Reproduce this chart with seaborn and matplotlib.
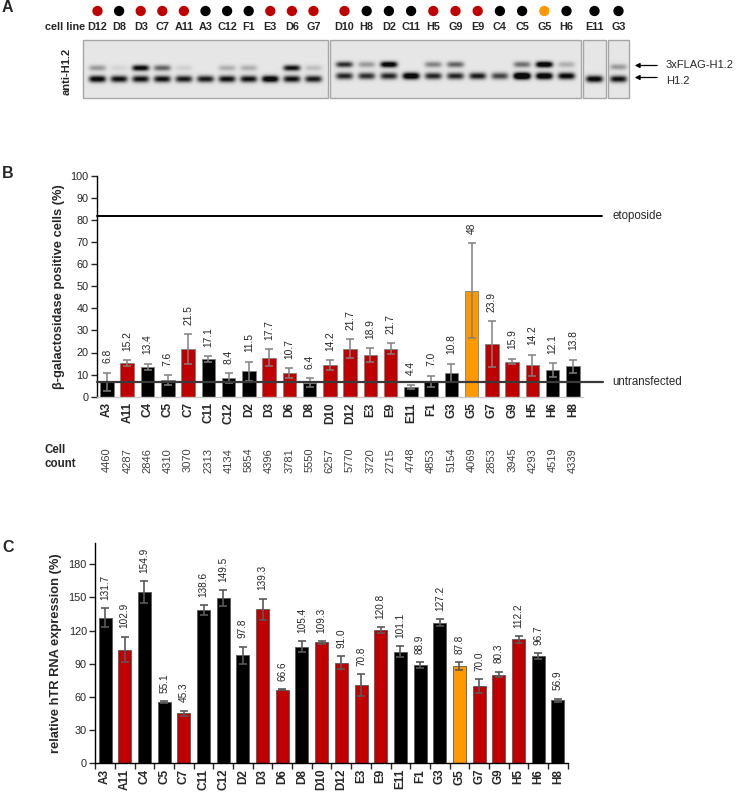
"""
Clonal H1.2 lines: blot, senescence and hTR expression panels.
"""

import numpy as np
import pandas as pd
import matplotlib
matplotlib.use('Agg')
import matplotlib.pyplot as plt
import seaborn as sns


sns.set_style('white')
plt.rcParams['font.family'] = ['Liberation Sans', 'DejaVu Sans']

W, H = 737, 796

# colour codes: k = no FLAG band, r = FLAG band, o = selected clone
palette_codes = {'k': '#000000', 'r': '#c00000', 'o': '#ff9900'}

# ---------------- panel A (western blot) ----------------
blot_lanes = ['D12', 'D8', 'D3', 'C7', 'A11', 'A3', 'C12', 'F1', 'E3', 'D6', 'G7',
              'D10', 'H8', 'D2', 'C11', 'H5', 'G9', 'E9', 'C4', 'C5', 'G5', 'H6',
              'E11', 'G3']
blot_codes = ['r', 'k', 'r', 'r', 'r', 'k', 'k', 'k', 'r', 'r', 'r',
              'r', 'k', 'k', 'k', 'r', 'r', 'r', 'k', 'k', 'o', 'k',
              'k', 'k']
lanes_per_membrane = [11, 11, 1, 1]
flag_band = [0.35, 0.08, 1.1, 0.6, 0.1, 0.0, 0.25, 0.25, 0.0, 1.0, 0.18,
             0.85, 0.35, 1.2, 0.0, 0.45, 0.6, 0.0, 0.0, 0.55, 1.3, 0.25,
             0.0, 0.35]
h12_band = [1.1, 1.0, 1.0, 1.0, 0.95, 0.95, 1.0, 1.0, 1.2, 1.0, 0.95,
            0.9, 0.85, 0.9, 1.3, 0.9, 0.9, 0.95, 0.75, 1.6, 1.3, 1.1,
            1.1, 1.0]

# ---------------- panels B and C ----------------
cells = ['A3', 'A11', 'C4', 'C5', 'C7', 'C11', 'C12', 'D2', 'D3', 'D6', 'D8', 'D10',
         'D12', 'E3', 'E9', 'E11', 'F1', 'G3', 'G5', 'G7', 'G9', 'H5', 'H6', 'H8']
cell_codes = ['k', 'r', 'k', 'k', 'r', 'k', 'k', 'k', 'r', 'r', 'k', 'r',
              'r', 'r', 'r', 'k', 'k', 'k', 'o', 'r', 'r', 'r', 'k', 'k']

sa_bgal = [6.8, 15.2, 13.4, 7.6, 21.5, 17.1, 8.4, 11.5, 17.7, 10.7, 6.4, 14.2,
           21.7, 18.9, 21.7, 4.4, 7.0, 10.8, 48, 23.9, 15.9, 14.2, 12.1, 13.8]
sa_bgal_err = [4.1, 1.4, 1.4, 2.2, 6.8, 1.2, 2.1, 4.4, 3.8, 2.1, 1.9, 2.3,
               4.3, 3.0, 2.4, 0.9, 2.5, 4.1, 21.5, 10.3, 1.2, 4.8, 3.0, 3.0]
cell_count = [4460, 4287, 2846, 4310, 3070, 2313, 4134, 5854, 4396, 3781, 5550, 6257,
              5770, 3720, 2715, 4748, 4853, 5154, 4069, 2853, 3945, 4293, 4519, 4339]
etoposide_level = 81.8
untransfected_level = 6.5

htr = [131.7, 102.9, 154.9, 55.1, 45.3, 138.6, 149.5, 97.8, 139.3, 66.6, 105.4, 109.3,
       91.0, 70.8, 120.8, 101.1, 88.9, 127.2, 87.8, 70.0, 80.3, 112.2, 96.7, 56.9]
htr_err = [8.5, 11.7, 10.0, 1.0, 2.4, 4.3, 7.3, 7.7, 9.6, 0.3, 4.9, 1.5,
           6.1, 9.7, 2.5, 4.7, 2.4, 3.0, 3.5, 6.0, 2.6, 3.0, 2.8, 1.6]


def px_rect(left, top, right, bottom):
    return [left / W, (H - bottom) / H, (right - left) / W, (bottom - top) / H]


def blot_image(width, height, lane_xs, upper_y, lower_y, flag, h12):
    yy, xx = np.mgrid[0:height, 0:width] + 0.5
    img = np.zeros((height, width))
    for x0, fu, fl in zip(lane_xs, flag, h12):
        gx = np.exp(-((xx - x0) / 8.5) ** 4)
        img += fu * gx * np.exp(-((yy - upper_y) / 3.0) ** 2)
        img += fl * gx * np.exp(-((yy - lower_y) / 3.4) ** 2)
    return np.clip(img, 0, 1)


fig = plt.figure(figsize=(W / 100, H / 100), dpi=100)

# overlay axes in pixel units for the blot and free text
axA = fig.add_axes([0, 0, 1, 1])
axA.set_xlim(0, W)
axA.set_ylim(H, 0)
axA.axis('off')
axA.patch.set_alpha(0)

membranes = [(83, 328, 68, 79), (330, 581, 64.5, 76), (583, 606, 67, 79), (608, 629, 67, 79)]
top, bottom = 40, 98
lane_x = []
start = 0
for (left, right, uy, ly), n in zip(membranes, lanes_per_membrane):
    if n > 1:
        xs = np.linspace(left + 14.5, right - 14.5, n)
    else:
        xs = np.array([(left + right) / 2])
    lane_x.extend(xs)
    w = int(round(right - left))
    h = bottom - top
    img = blot_image(w, h, xs - left, uy - top, ly - top,
                     flag_band[start:start + n], h12_band[start:start + n])
    axA.imshow(0.9 - 0.86 * img, cmap='gray', vmin=0, vmax=1, aspect='auto',
               extent=(left, right, bottom, top), interpolation='bilinear')
    axA.add_patch(plt.Rectangle((left, top), right - left, bottom - top,
                                fill=False, edgecolor='#a6a6a6', lw=1.0))
    start += n
axA.set_xlim(0, W)
axA.set_ylim(H, 0)

axA.scatter(lane_x, [11] * len(lane_x), s=55,
            c=[palette_codes[c] for c in blot_codes], linewidths=0)
for x, name in zip(lane_x, blot_lanes):
    axA.text(x, 27, name, ha='center', va='center', fontsize=7.8, fontweight='bold')
axA.text(45, 27, 'cell line', ha='left', va='center', fontsize=7.8, fontweight='bold')
axA.text(67, 71, 'anti-H1.2', ha='center', va='center', rotation=90,
         fontsize=8, fontweight='bold')
for y, label in [(65.5, '3xFLAG-H1.2'), (77.5, 'H1.2')]:
    axA.annotate('', xy=(632, y), xytext=(660, y),
                 arrowprops=dict(arrowstyle='-|>', color='black', lw=0.9,
                                 mutation_scale=7))
    axA.text(666, y + (0 if label != 'H1.2' else 3), label, ha='left', va='center',
             fontsize=8)

for letter, y in [('A', 7), ('B', 173), ('C', 548)]:
    axA.text(2, y, letter, ha='left', va='center', fontsize=11.5, fontweight='bold')

axA.text(45, 457, 'Cell\ncount', ha='left', va='center', fontsize=8.3,
         fontweight='bold', linespacing=1.2)

colors = dict(zip(cells, [palette_codes[c] for c in cell_codes]))
x = np.arange(len(cells))

# ---------------- panel B ----------------
dfB = pd.DataFrame({'cell': cells, 'value': sa_bgal, 'err': sa_bgal_err})
axB = fig.add_axes(px_rect(96.9, 175.7, 583, 396.7))
sns.barplot(data=dfB, x='cell', y='value', hue='cell', palette=colors, legend=False,
            saturation=1, width=0.67, edgecolor='#7f7f7f', linewidth=0.6,
            errorbar=None, ax=axB)
axB.errorbar(x, dfB['value'], yerr=dfB['err'], fmt='none', ecolor='#808080',
             elinewidth=1.1, capsize=2.9, capthick=1.1, zorder=4)
for i, (v, e) in enumerate(zip(sa_bgal, sa_bgal_err)):
    axB.text(i, v + e + 4.3, str(v), rotation=90, ha='center', va='bottom',
             fontsize=7.4, color='#262626')
for i, c in enumerate(cell_count):
    axB.text(i, -0.287, str(c), transform=axB.get_xaxis_transform(), rotation=90,
             ha='center', va='center', fontsize=8, color='#404040')

axB.plot([-0.5, 24.43], [etoposide_level] * 2, color='black', lw=1.4,
         clip_on=False, zorder=5)
axB.text(24.97, etoposide_level, 'etoposide', va='center', ha='left', fontsize=8.3)
axB.plot([-0.5, 24.48], [untransfected_level] * 2, color='#3a3a3a', lw=1.6,
         clip_on=False, zorder=5)
axB.text(24.92, untransfected_level, 'untransfected', va='center', ha='left', fontsize=8.3)

axB.set_xlim(-0.5, len(cells) - 0.5)
axB.set_ylim(0, 100)
axB.set_yticks(np.arange(0, 101, 10))
axB.set_xlabel('')
axB.set_ylabel('β-galactosidase positive cells (%)', fontsize=9.3, fontweight='bold',
               labelpad=4)
sns.despine(ax=axB)
axB.spines['left'].set_color('black')
axB.spines['left'].set_linewidth(1.0)
axB.spines['bottom'].set_color('#c8c8c8')
axB.spines['bottom'].set_linewidth(1.0)
axB.tick_params(axis='y', direction='out', length=4, width=1, labelsize=7.8,
                left=True, pad=2)
axB.tick_params(axis='x', length=0, pad=4, labelsize=8.5, labelrotation=90)
for lbl in axB.get_xticklabels():
    lbl.set_fontweight('bold')

# ---------------- panel C ----------------
dfC = pd.DataFrame({'cell': cells, 'value': htr, 'err': htr_err})
axC = fig.add_axes(px_rect(95.2, 543.3, 567.8, 763.3))
sns.barplot(data=dfC, x='cell', y='value', hue='cell', palette=colors, legend=False,
            saturation=1, width=0.66, edgecolor='#595959', linewidth=0.6,
            errorbar=None, ax=axC)
axC.errorbar(x, dfC['value'], yerr=dfC['err'], fmt='none', ecolor='#595959',
             elinewidth=1.2, capsize=2.9, capthick=1.2, zorder=4)
for i, (v, e) in enumerate(zip(htr, htr_err)):
    axC.text(i, v + e + 7.5, str(v), rotation=90, ha='center', va='bottom',
             fontsize=7.2, color='#262626')

axC.set_xlim(-0.5, len(cells) - 0.5)
axC.set_ylim(0, 199)
axC.set_yticks(np.arange(0, 181, 30))
axC.set_xticks(np.arange(-0.5, len(cells), 1), minor=True)
axC.set_xlabel('')
axC.set_ylabel('relative hTR RNA expression (%)', fontsize=9.3, fontweight='bold',
               labelpad=5)
sns.despine(ax=axC)
for side in ['left', 'bottom']:
    axC.spines[side].set_color('black')
    axC.spines[side].set_linewidth(1.0)
axC.tick_params(axis='y', direction='out', length=4, width=1, labelsize=7.8,
                left=True, pad=2)
axC.tick_params(axis='x', which='major', length=0, pad=4, labelsize=8.5, labelrotation=90)
axC.tick_params(axis='x', which='minor', direction='out', length=4, width=1, bottom=True)
for lbl in axC.get_xticklabels():
    lbl.set_fontweight('bold')

fig.savefig('out.png', dpi=100)
plt.close(fig)
